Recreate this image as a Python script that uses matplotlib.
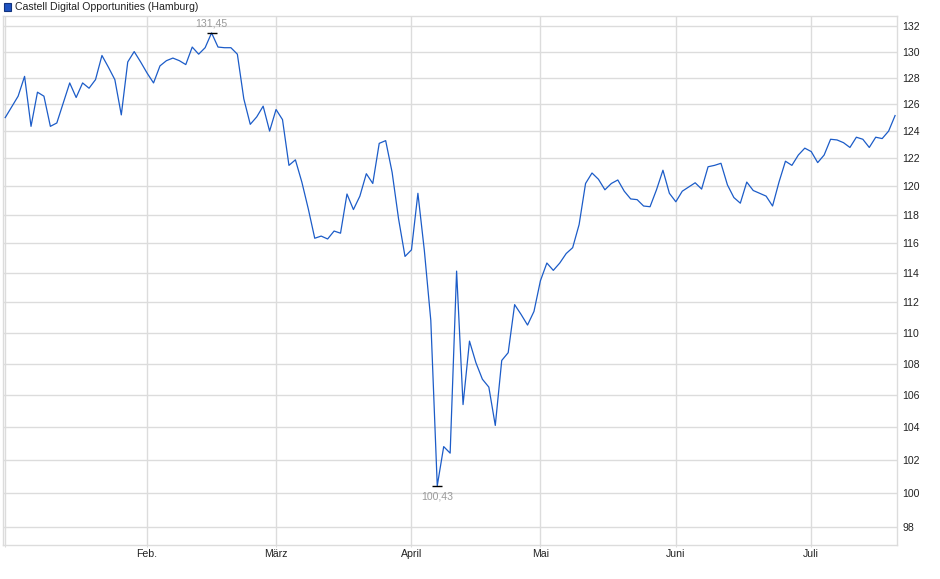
import matplotlib
matplotlib.use("Agg")
import matplotlib.pyplot as plt
from matplotlib.patches import Rectangle
from matplotlib.ticker import FixedLocator, NullLocator
import numpy as np
import pandas as pd

plt.rcParams['font.family'] = ['Liberation Sans', 'DejaVu Sans']

# trading days (Hamburg), 2 Jan - 18 Jul 2025
holidays = ['2025-04-18', '2025-04-21', '2025-05-01']
dates = pd.bdate_range('2025-01-02', '2025-07-18', freq='C', holidays=holidays)

prices = [
    125.0, 125.8, 126.6, 128.1, 124.35, 126.9, 126.6, 124.35, 124.6, 126.1,
    127.6, 126.5, 127.6, 127.2, 127.85, 129.7, 128.8, 127.85, 125.2, 129.2,
    130.0, 129.2, 128.35, 127.6, 128.9, 129.3, 129.5, 129.3, 129.0, 130.35,
    129.8, 130.3, 131.45, 130.35, 130.3, 130.3, 129.8, 126.4, 124.5, 125.05,
    125.85, 124.0, 125.6, 124.85, 121.5, 121.9, 120.3, 118.4, 116.35, 116.5,
    116.3, 116.85, 116.7, 119.45, 118.35, 119.3, 120.9, 120.2, 123.1, 123.3,
    121.0, 117.7, 115.1, 115.55, 119.5, 115.5, 110.8, 100.43, 102.8, 102.4,
    114.1, 105.4, 109.45, 108.05, 107.0, 106.5, 104.1, 108.2, 108.7, 111.85,
    111.2, 110.5, 111.4, 113.45, 114.65, 114.15, 114.65, 115.3, 115.7, 117.3,
    120.2, 120.95, 120.5, 119.75, 120.2, 120.45, 119.65, 119.1, 119.05, 118.6,
    118.55, 119.75, 121.15, 119.5, 118.9, 119.65, 119.95, 120.25, 119.8, 121.4,
    121.5, 121.65, 120.1, 119.2, 118.8, 120.3, 119.7, 119.5, 119.3, 118.6,
    120.3, 121.8, 121.5, 122.25, 122.75, 122.5, 121.7, 122.25, 123.4, 123.35,
    123.15, 122.8, 123.55, 123.4, 122.8, 123.55, 123.45, 124.0, 125.15,
]

month_labels = ['', 'Feb.', 'März', 'April', 'Mai', 'Juni', 'Juli']
y_ticks = list(range(98, 133, 2))
title = 'Castell Digital Opportunities (Hamburg)'

line_color = '#1C5CC8'
grid_color = '#DCDCDC'

x = np.arange(len(prices))
month_pos = [i for i in range(len(dates)) if i == 0 or dates[i].month != dates[i - 1].month]

fig = plt.figure(figsize=(9.4, 5.79), dpi=100)
ax = fig.add_axes([0.0033, 0.0587, 0.9513, 0.9137])

ax.plot(x, prices, color=line_color, lw=0.9, zorder=3)

ax.set_yscale('log')
ax.set_ylim(96.96, 132.78)
ax.set_xlim(-0.33, 138.35)

ax.yaxis.set_major_locator(FixedLocator(y_ticks))
ax.yaxis.set_minor_locator(NullLocator())
ax.set_yticks(y_ticks)
ax.set_yticklabels([str(t) for t in y_ticks])
ax.yaxis.tick_right()
ax.tick_params(axis='y', length=0, pad=3.5, labelsize=7.6, colors='#222222')

ax.set_xticks(month_pos)
ax.set_xticklabels(month_labels)
ax.tick_params(axis='x', length=1.5, pad=1.2, labelsize=7.6, labelcolor='#222222', color=grid_color)

ax.grid(True, color=grid_color, lw=1, zorder=0)
for s in ax.spines.values():
    s.set_color(grid_color)
    s.set_linewidth(1)

# high / low markers
imax = int(np.argmax(prices))
imin = int(np.argmin(prices))
for i, va, off in [(imax, 'bottom', 3.5), (imin, 'top', -4)]:
    ax.plot(x[i], prices[i], marker='_', color='black', ms=7, mew=1, zorder=4)
    ax.annotate(f'{prices[i]:.2f}'.replace('.', ','), (x[i], prices[i]),
                xytext=(0, off), textcoords='offset points',
                ha='center', va=va, fontsize=7.6, color='#9A9A9A')

# legend box
fig.patches.append(Rectangle((3.5 / 940, 1 - 11 / 579), 7.5 / 940, 7.5 / 579,
                             transform=fig.transFigure, facecolor='#1E52C0',
                             edgecolor='#12337E', lw=0.8))
fig.text(15 / 940, 1 - 7.5 / 579, title, ha='left', va='center',
         fontsize=7.6, color='#222222')

fig.savefig('out.png', dpi=100)
